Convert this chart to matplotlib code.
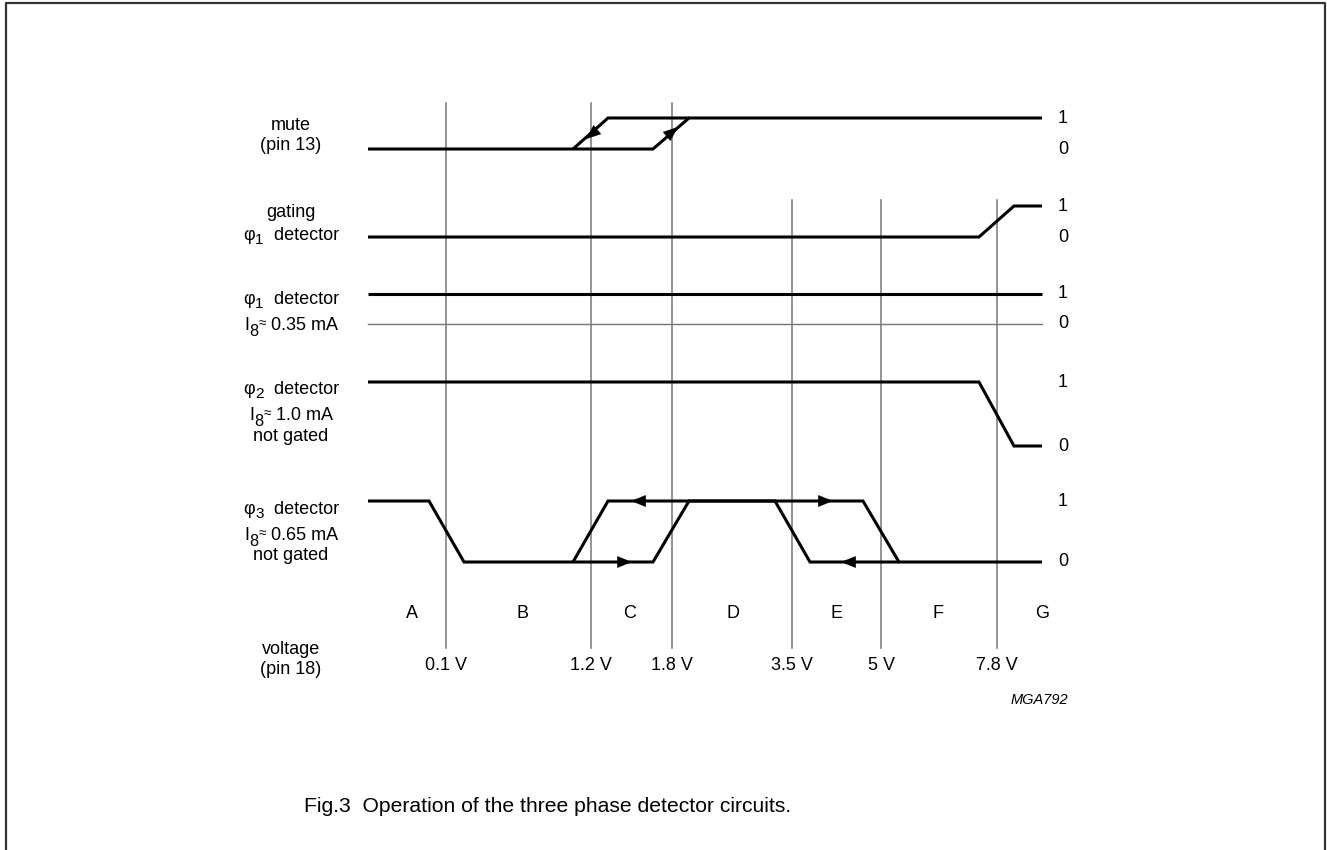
import matplotlib
matplotlib.use("Agg")
import matplotlib.pyplot as plt

plt.rcParams['font.family'] = ['Liberation Sans', 'DejaVu Sans']

# ---- data (diagram coordinates: x = control-voltage axis, levels 0/1) ----
threshold_labels = ["0.1 V", "1.2 V", "1.8 V", "3.5 V", "5 V", "7.8 V"]
threshold_x = [446, 591, 672, 792, 881, 997]
threshold_top = [103, 103, 103, 200, 200, 200]
region_labels = ["A", "B", "C", "D", "E", "F", "G"]
region_x = [412, 523, 630, 733, 837, 938, 1042]

# rows: (y of level 0, y of level 1)
row_names = ["mute", "gating", "phi1", "phi2", "phi3"]
row_y0 = [149, 237, 324, 446, 562]
row_y1 = [118, 206, 294, 382, 501]

mute_x1 = [368, 653, 689, 1042]
mute_l1 = [0, 0, 1, 1]
mute_x2 = [573, 608, 689]
mute_l2 = [0, 1, 1]

gating_x = [368, 979, 1014, 1042]
gating_l = [0, 0, 1, 1]

phi1_x = [368, 1042]
phi1_l = [1, 1]

phi2_x = [368, 979, 1014, 1042]
phi2_l = [1, 1, 0, 0]

phi3_x1 = [368, 429, 464, 653, 689, 863, 899, 1042]
phi3_l1 = [1, 1, 0, 0, 1, 1, 0, 0]
phi3_x2 = [573, 608, 775, 810, 899]
phi3_l2 = [0, 1, 1, 0, 0]

# arrows: (row, x_tail, level_tail, x_tip, level_tip)
arrows = [
    ("mute", 603, 0.78, 586, 0.32),
    ("mute", 661, 0.25, 678, 0.71),
    ("phi3", 612, 0, 632, 0),
    ("phi3", 652, 1, 631, 1),
    ("phi3", 812, 1, 833, 1),
    ("phi3", 862, 0, 841, 0),
]

# left labels: list of (segments, y_centre); segment = (text, dy_px, size_scale)
phi1_seg = [("φ", 0, 1.0), ("1", 4, 0.85), ("  detector", 0, 1.0)]
phi2_seg = [("φ", 0, 1.0), ("2", 4, 0.85), ("  detector", 0, 1.0)]
phi3_seg = [("φ", 0, 1.0), ("3", 4, 0.85), ("  detector", 0, 1.0)]
left_labels = [
    ([("mute", 0, 1.0)], 123), ([("(pin 13)", 0, 1.0)], 143),
    ([("gating", 0, 1.0)], 210), (phi1_seg, 233),
    (phi1_seg, 297),
    ([("I", 0, 1.0), ("8", 6, 0.9), ("≈", -2, 0.75), (" 0.35 mA", 0, 1.0)], 323),
    (phi2_seg, 387),
    ([("I", 0, 1.0), ("8", 6, 0.9), ("≈", -2, 0.75), (" 1.0 mA", 0, 1.0)], 413),
    ([("not gated", 0, 1.0)], 434),
    (phi3_seg, 507),
    ([("I", 0, 1.0), ("8", 6, 0.9), ("≈", -2, 0.75), (" 0.65 mA", 0, 1.0)], 533),
    ([("not gated", 0, 1.0)], 554),
    ([("voltage", 0, 1.0)], 648), ([("(pin 18)", 0, 1.0)], 667),
]

W, H = 1327, 850
fig = plt.figure(figsize=(W / 100, H / 100), dpi=100)
ax = fig.add_axes([0, 0, 1, 1])
ax.set_xlim(0, W)
ax.set_ylim(H, 0)
ax.axis('off')
renderer = fig.canvas.get_renderer()

def ylev(row, lev):
    i = row_names.index(row)
    return row_y0[i] + (row_y1[i] - row_y0[i]) * lev

# frame
ax.plot([6, 6, 1325, 1325], [850, 3, 3, 850], color='#333333', lw=1.6,
        solid_capstyle='butt')

GRAY = '#777777'
for x, top in zip(threshold_x, threshold_top):
    ax.plot([x, x], [top, 648], color=GRAY, lw=1.1)

LW = 2.2
def wave(row, xs, ls):
    ax.plot(xs, [ylev(row, l) for l in ls], color='black', lw=LW,
            solid_joinstyle='miter', solid_capstyle='butt')

wave("mute", mute_x1, mute_l1)
wave("mute", mute_x2, mute_l2)
wave("gating", gating_x, gating_l)
wave("phi1", phi1_x, phi1_l)
ax.plot([368, 1042], [ylev("phi1", 0)] * 2, color=GRAY, lw=1.0)
wave("phi2", phi2_x, phi2_l)
wave("phi3", phi3_x1, phi3_l1)
wave("phi3", phi3_x2, phi3_l2)

for row, xt, lt, xh, lh in arrows:
    ax.annotate('', xy=(xh, ylev(row, lh)), xytext=(xt, ylev(row, lt)),
                arrowprops=dict(arrowstyle='-|>,head_length=0.75,head_width=0.3',
                                color='black', lw=0.1, mutation_scale=14,
                                shrinkA=0, shrinkB=0))

FS = 13.0
for row in row_names:
    ax.text(1063, ylev(row, 1), "1", ha='center', va='center', fontsize=FS)
    ax.text(1063, ylev(row, 0), "0", ha='center', va='center', fontsize=FS)

def rich(xc, yc, segs):
    base = yc + 6.5
    items = []
    total = 0.0
    for s, dy, sc in segs:
        t = ax.text(0, base + dy, s, fontsize=FS * sc, ha='left', va='baseline')
        w = t.get_window_extent(renderer).width
        items.append((t, w))
        total += w
    x = xc - total / 2
    for t, w in items:
        t.set_x(x)
        x += w

for segs, y in left_labels:
    rich(291, y, segs)

for s, x in zip(region_labels, region_x):
    ax.text(x, 613, s, ha='center', va='center', fontsize=FS)
for s, x in zip(threshold_labels, threshold_x):
    ax.text(x, 666, s, ha='center', va='center', fontsize=FS)

ax.text(1068, 700, "MGA792", ha='right', va='center', fontsize=10.5,
        style='italic')

ax.text(548, 806, "Fig.3  Operation of the three phase detector circuits.",
        ha='center', va='center', fontsize=15.2)

fig.savefig("out.png", dpi=100)
